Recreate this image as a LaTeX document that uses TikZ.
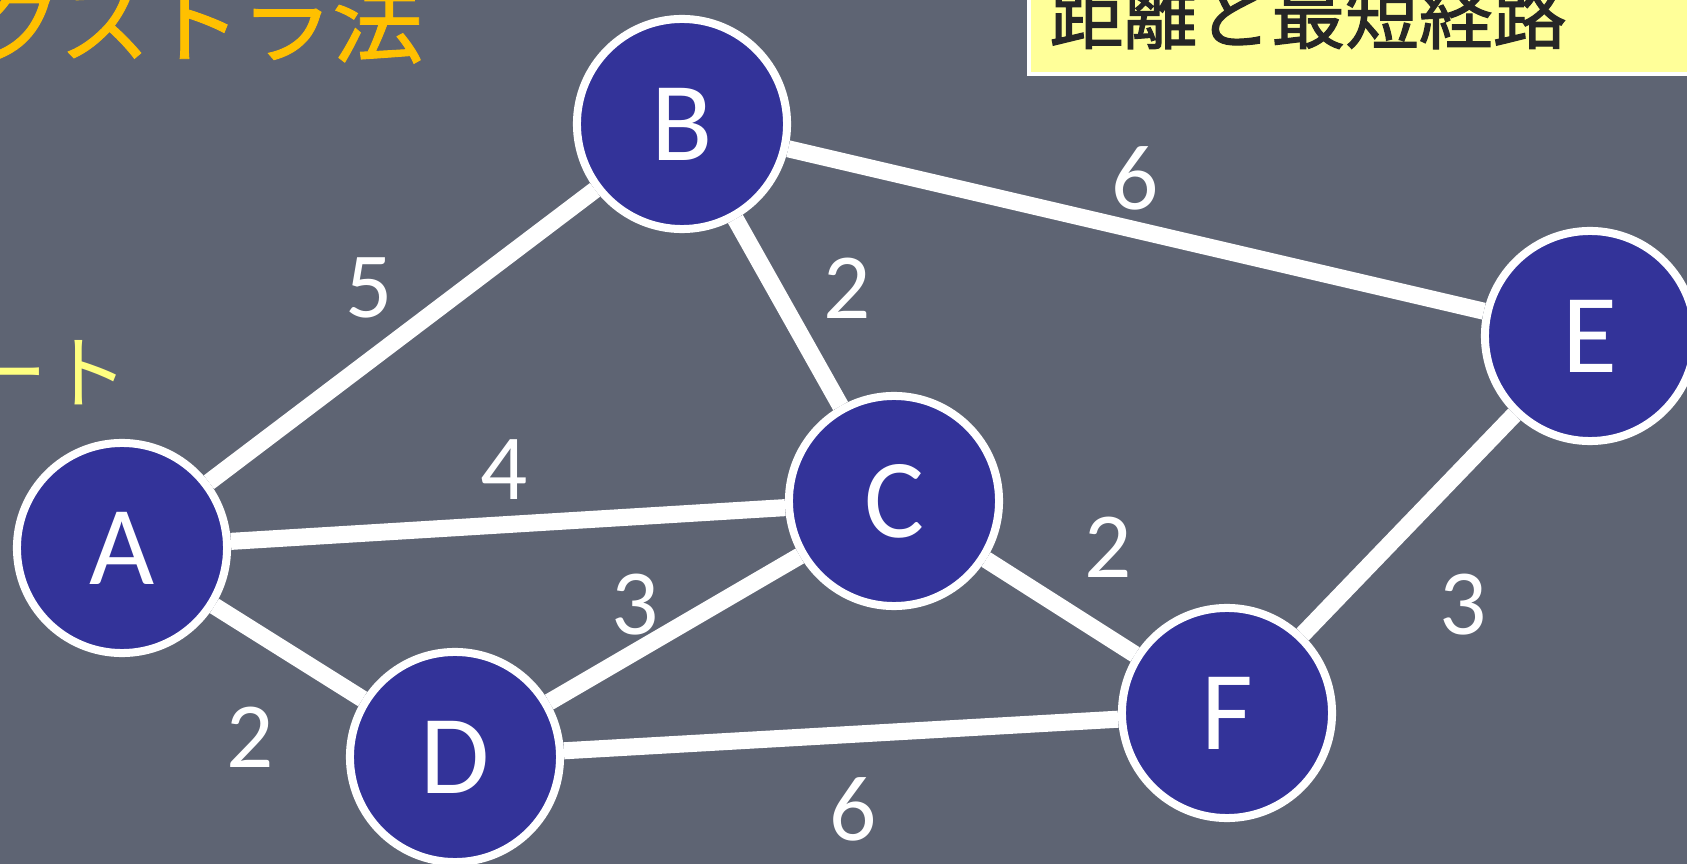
\documentclass[tikz,border=0pt]{standalone}
\usepackage{fontspec}
\setmainfont{Carlito}
\newfontfamily\jpfont{Noto Sans CJK JP}
\newfontfamily\jptitlefont{Noto Sans CJK JP}[FakeBold=1.0]
\newfontfamily\jpsubfont{Noto Sans CJK JP}[FakeBold=1.6]
\usetikzlibrary{backgrounds}
\definecolor{bg}{RGB}{94,100,115}
\definecolor{nodeblue}{RGB}{51,51,153}
\definecolor{titleorange}{RGB}{255,192,0}
\definecolor{boxyellow}{RGB}{255,255,153}
\definecolor{starty}{RGB}{255,255,128}
\definecolor{darktext}{RGB}{38,38,38}
\begin{document}
\begin{tikzpicture}[x=0.01cm,y=-0.01cm,
  vertex/.style={circle,fill=nodeblue,draw=white,line width=2.28pt,minimum size=2.1cm,inner sep=0pt,text=white,font=\fontsize{32}{36}\selectfont},
  edge/.style={white,line width=4.85pt},
  weight/.style={text=white,font=\fontsize{26.5}{30}\selectfont,inner sep=0pt},
  jptext/.style={inner sep=0pt}]
\useasboundingbox (0,0) rectangle (1687,864);

% nodes
\node[vertex] (A) at (122,548) {A};
\node[vertex] (B) at (682,124) {B};
\node[vertex] (C) at (894,501) {C};
\node[vertex] (D) at (455,757) {D};
\node[vertex] (E) at (1590,336) {E};
\node[vertex] (F) at (1227,713) {F};

% weights
\node[weight] (wAB) at (369,288) {5};
\node[weight] (wBC) at (847,288) {2};
\node[weight] (wBE) at (1135,178) {6};
\node[weight] (wAC) at (504,470) {4};
\node[weight] (wDC) at (635,605) {3};
\node[weight] (wAD) at (250,737) {2};
\node[weight] (wCF) at (1108,547) {2};
\node[weight] (wEF) at (1463,605) {3};
\node[weight] (wDF) at (853,809) {6};

% title
\node[jptext,anchor=base east,text=titleorange,font=\jptitlefont\fontsize{25.9}{30}\selectfont] (title) at (424,56) {ダイクストラ法};

% subtitle box
\draw[draw=white,line width=1.14pt,fill=boxyellow] (1029,-20) rectangle (1720,74);
\node[jptext,anchor=base west,text=darktext,font=\jpsubfont\fontsize{21}{24}\selectfont] (sub) at (1049,43) {距離と最短経路};

% start label
\node[jptext,anchor=base east,text=starty,font=\jpfont\fontsize{22.8}{26}\selectfont] (start) at (129,403) {スタート};

\begin{scope}[on background layer]
  \fill[bg] (0,0) rectangle (1687,864);
  \draw[edge] (A) -- (B);
  \draw[edge] (A) -- (C);
  \draw[edge] (A) -- (D);
  \draw[edge] (B) -- (C);
  \draw[edge] (B) -- (E);
  \draw[edge] (C) -- (D);
  \draw[edge] (C) -- (F);
  \draw[edge] (D) -- (F);
  \draw[edge] (E) -- (F);
\end{scope}
\end{tikzpicture}
\end{document}
